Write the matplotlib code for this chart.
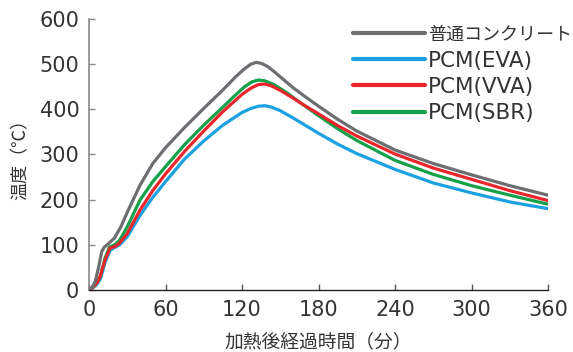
import matplotlib
matplotlib.use("Agg")
import matplotlib.pyplot as plt

plt.rcParams['font.family'] = ['DejaVu Sans', 'Noto Sans CJK JP']

x_ticks = [0, 60, 120, 180, 240, 300, 360]
y_ticks = [0, 100, 200, 300, 400, 500, 600]

t_gray = [0, 3, 5, 7.5, 10, 12, 15, 20, 25, 30, 40, 50, 60, 75, 90, 105, 115, 122, 127, 131, 135, 140, 145, 150, 160, 170, 180, 195, 210, 240, 270, 300, 330, 360]
v_gray = [0, 8, 20, 50, 85, 95, 102, 115, 140, 172, 232, 280, 315, 360, 402, 443, 472, 490, 500, 504, 502, 495, 484, 472, 448, 427, 407, 378, 352, 310, 280, 255, 231, 210]

t_blue = [0, 3, 6, 9, 12.5, 16.5, 20, 24, 30, 40, 50, 60, 75, 90, 105, 120, 127, 133, 138, 143, 150, 160, 170, 180, 195, 210, 240, 270, 300, 330, 360]
v_blue = [0, 5, 12, 25, 60, 88, 94, 100, 118, 165, 205, 240, 290, 330, 365, 393, 402, 407, 408, 405, 397, 381, 364, 347, 323, 302, 267, 237, 215, 195, 180]

t_red = [0, 3, 6, 8.6, 12.5, 16.5, 20.4, 24, 30, 40, 50, 60, 75, 90, 105, 120, 127, 133, 138, 143, 150, 160, 170, 180, 195, 210, 240, 270, 300, 330, 360]
v_red = [0, 6, 15, 29, 66, 93, 96, 104, 125, 177, 220, 257, 307, 352, 395, 433, 447, 455, 456, 452, 442, 425, 407, 390, 364, 341, 301, 270, 245, 220, 198]

t_green = [0, 3, 6, 9, 12.5, 16, 20, 24, 30, 40, 50, 60, 75, 90, 105, 115, 122, 128, 133, 138, 145, 155, 165, 180, 195, 210, 240, 270, 300, 330, 360]
v_green = [0, 6, 15, 30, 70, 95, 100, 110, 140, 199, 240, 273, 322, 365, 405, 432, 450, 461, 465, 463, 455, 437, 416, 386, 357, 331, 287, 256, 231, 210, 190]

labels = ['普通コンクリート', 'PCM(EVA)', 'PCM(VVA)', 'PCM(SBR)']
colors = ['#6d6e71', '#1ba1e2', '#e8262b', '#15a04a']

fig = plt.figure(figsize=(5.73, 3.52), dpi=100)
ax = fig.add_axes([89/573, 62/352, (548-89)/573, (290-19)/352])

series = [(t_gray, v_gray), (t_blue, v_blue), (t_red, v_red), (t_green, v_green)]
order = [1, 3, 2, 0]
lines = {}
for i in order:
    t, v = series[i]
    ln, = ax.plot(t, v, color=colors[i], lw=2.3, solid_capstyle='round', solid_joinstyle='round')
    lines[i] = ln

ax.set_xlim(0, 360)
ax.set_ylim(0, 600)
ax.set_xticks(x_ticks)
ax.set_yticks(y_ticks)
ax.tick_params(axis='both', direction='in', length=4, width=1, labelsize=15, labelcolor='#333333')
ax.tick_params(axis='y', pad=7, color='#888888')
ax.tick_params(axis='x', pad=7, color='#555555')
for s in ['top', 'right']:
    ax.spines[s].set_visible(False)
ax.spines['left'].set_color('#888888')
ax.spines['left'].set_linewidth(1.2)
ax.spines['bottom'].set_color('#222222')
ax.spines['bottom'].set_linewidth(1.0)

ax.set_xlabel('加熱後経過時間（分）', fontsize=13.5, color='#333333', labelpad=8,
              family=['Noto Sans CJK JP', 'DejaVu Sans'])
ax.set_ylabel('温度（℃）', fontsize=13, color='#333333', labelpad=0,
              family=['Noto Sans CJK JP', 'DejaVu Sans'])
ax.yaxis.set_label_coords(-0.13, 0.5)

leg = fig.legend([lines[i] for i in range(4)], labels, loc='upper left',
                 bbox_to_anchor=(353/573, 327/352), frameon=False, fontsize=15.5,
                 handlelength=3.35, handletextpad=0.14, labelspacing=0.3,
                 borderaxespad=0, borderpad=0)
for txt in leg.get_texts():
    txt.set_color('#333333')
leg.get_texts()[0].set_family(['Noto Sans CJK JP', 'DejaVu Sans'])
leg.get_texts()[0].set_fontsize(13)
for ln in leg.get_lines():
    ln.set_linewidth(3)

fig.savefig('out.png', dpi=100)
